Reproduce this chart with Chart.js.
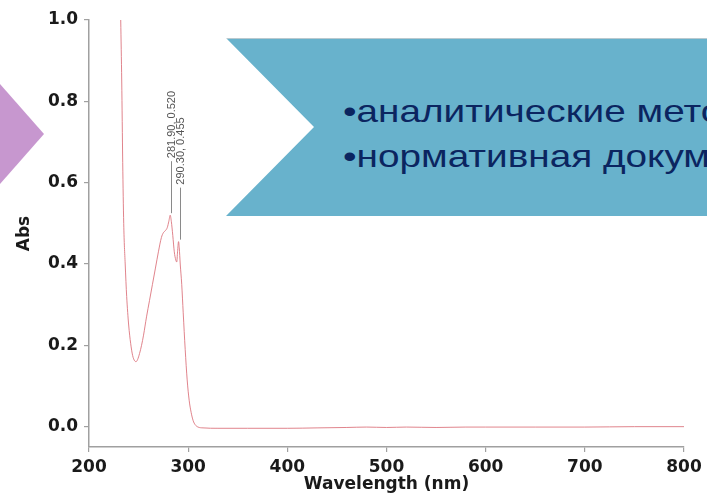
<!DOCTYPE html>
<html>
<head>
<meta charset="utf-8">
<script src="https://cdn.jsdelivr.net/npm/chart.js@4"></script>
<style>
  html, body { margin: 0; padding: 0; background: #ffffff; }
  #wrap { position: relative; width: 707px; height: 501px; overflow: hidden; background: #fff; }
  #c { position: absolute; left: 0; top: 0; }
  #arrow { position: absolute; left: 0; top: 84px; width: 44px; height: 100px; background: #c797cf;
           clip-path: polygon(0 0, 100% 50%, 0 100%); }
  #banner { position: absolute; left: 226px; top: 38px; width: 481px; height: 178px; background: #68b2cc;
            clip-path: polygon(0 0, 100% 0, 100% 100%, 0 100%, 88px 89px); overflow: hidden;
            border-top: 1px solid #b9c9cf; box-sizing: border-box; }
  #banner .txt { position: absolute; left: 117px; top: 50px; white-space: nowrap;
                 font-family: "Liberation Sans", Arial, sans-serif; font-size: 32px; line-height: 45px; color: #0b2560;
                 transform: scaleX(1.21); transform-origin: 0 0; }
</style>
</head>
<body>
<div id="wrap">
  <canvas id="c" width="707" height="501"></canvas>
  <div id="arrow"></div>
  <div id="banner"><div class="txt">•аналитические методы<br>•нормативная документация</div></div>
</div>
<script>
// ---- data ----
const wavelength = [232, 233, 234, 235, 236.5, 238, 240, 242, 244, 246, 247.5, 249, 251, 253, 255, 258, 261, 264, 267, 270, 273, 275, 277, 279, 280.5, 281.9, 283, 284.5, 286, 287.5, 288.5, 289.3, 290.3, 291, 292, 293.5, 295, 297, 299, 301, 303, 305, 307, 310, 315, 330, 360, 400, 430, 460, 480, 500, 520, 550, 580, 600, 650, 700, 750, 800];
const absorbance = [1.00, 0.85, 0.65, 0.50, 0.40, 0.32, 0.25, 0.205, 0.175, 0.162, 0.160, 0.165, 0.18, 0.20, 0.225, 0.27, 0.31, 0.35, 0.39, 0.43, 0.465, 0.477, 0.482, 0.49, 0.505, 0.520, 0.505, 0.47, 0.43, 0.41, 0.405, 0.43, 0.455, 0.44, 0.40, 0.35, 0.28, 0.19, 0.115, 0.065, 0.035, 0.015, 0.005, -0.001, -0.003, -0.004, -0.004, -0.004, -0.003, -0.002, -0.001, -0.002, -0.001, -0.002, -0.001, -0.001, -0.001, -0.001, 0.000, 0.000];
const peakWavelength = [281.9, 290.3];
const peakAbsorbance = [0.520, 0.455];
const xTicks = [200, 300, 400, 500, 600, 700, 800];
const yTicks = [0.0, 0.2, 0.4, 0.6, 0.8, 1.0];

const points = wavelength.map((w, i) => ({ x: w, y: absorbance[i] }));
const AXIS = '#a0a0a0';
const tickFont = { family: '"DejaVu Sans", sans-serif', size: 17, weight: 'bold' };

const peakPlugin = {
  id: 'peakLabels',
  afterDatasetsDraw(chart) {
    const ctx = chart.ctx, xs = chart.scales.x, ys = chart.scales.y;
    ctx.save();
    peakWavelength.forEach((w, i) => {
      const px = Math.round(xs.getPixelForValue(w)) + 1.5;
      const py = ys.getPixelForValue(peakAbsorbance[i]);
      ctx.strokeStyle = '#8a8a8a';
      ctx.lineWidth = 1;
      ctx.beginPath();
      ctx.moveTo(px, py - 2);
      ctx.lineTo(px, py - 54);
      ctx.stroke();
      ctx.translate(px, py - 57);
      ctx.rotate(-Math.PI / 2);
      ctx.fillStyle = '#555';
      ctx.font = '11px "Liberation Sans", Arial, sans-serif';
      ctx.textAlign = 'left';
      ctx.textBaseline = 'middle';
      ctx.fillText(w.toFixed(2) + ', ' + peakAbsorbance[i].toFixed(3), 0, 0);
      ctx.setTransform(1, 0, 0, 1, 0, 0);
    });
    ctx.restore();
  }
};

new Chart(document.getElementById('c'), {
  type: 'scatter',
  data: {
    datasets: [{
      data: points,
      showLine: true,
      borderColor: 'rgba(218, 110, 120, 0.85)',
      borderWidth: 1,
      pointRadius: 0,
      cubicInterpolationMode: 'monotone',
      fill: false
    }]
  },
  plugins: [peakPlugin],
  options: {
    responsive: false,
    devicePixelRatio: 1,
    animation: false,
    layout: { padding: { top: 20, right: 23, left: 0, bottom: 0 } },
    plugins: { legend: { display: false }, tooltip: { enabled: false } },
    scales: {
      x: {
        type: 'linear', min: 200, max: 800,
        afterBuildTicks: s => { s.ticks = xTicks.map(v => ({ value: v })); },
        afterFit: s => { s.height = 54; },
        grid: { display: true, drawOnChartArea: false, drawTicks: true, tickLength: 5, color: AXIS, lineWidth: 1.2 },
        border: { display: true, color: AXIS, width: 1.5 },
        ticks: { font: tickFont, color: '#1a1a1a', padding: 5, maxRotation: 0, callback: v => String(v) },
        title: { display: true, text: 'Wavelength (nm)', font: tickFont, color: '#1a1a1a', padding: { top: 0, bottom: 6 } }
      },
      y: {
        type: 'linear', min: -0.05, max: 1.0,
        afterBuildTicks: s => { s.ticks = yTicks.map(v => ({ value: v })); },
        afterFit: s => { s.width = 89; },
        grid: { display: true, drawOnChartArea: false, drawTicks: true, tickLength: 5, color: AXIS, lineWidth: 1.2 },
        border: { display: true, color: AXIS, width: 1.5 },
        ticks: { font: tickFont, color: '#1a1a1a', padding: 6, callback: v => Number(v).toFixed(1) },
        title: { display: true, text: 'Abs', font: tickFont, color: '#1a1a1a', padding: { top: 14, bottom: 0 } }
      }
    }
  }
});
</script>
</body>
</html>
